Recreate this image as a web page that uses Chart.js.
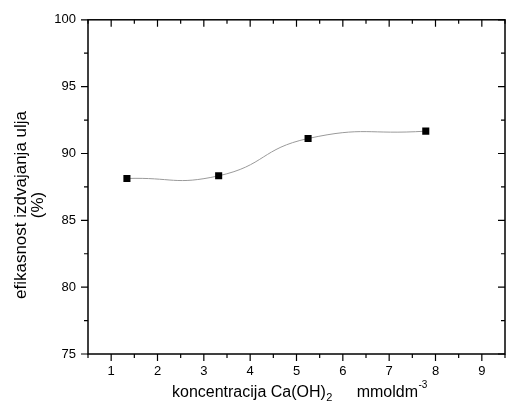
<!DOCTYPE html>
<html><head><meta charset="utf-8">
<script src="https://cdn.jsdelivr.net/npm/chart.js@4.4.0/dist/chart.umd.min.js"></script>
<style>html,body{margin:0;padding:0;background:#fff;}</style>
</head><body>
<canvas id="c" width="510" height="411" style="display:block;width:510px;height:411px"></canvas>
<script>
const concentration = [1.34, 3.32, 5.25, 7.79];
const efficiency = [88.13, 88.33, 91.12, 91.67];
const xTicks = [1, 2, 3, 4, 5, 6, 7, 8, 9];
const xMinorTicks = [0.5, 1.5, 2.5, 3.5, 4.5, 5.5, 6.5, 7.5, 8.5, 9.5];
const yTicks = [75, 80, 85, 90, 95, 100];
const yMinorTicks = [77.5, 82.5, 87.5, 92.5, 97.5];
const xTitle = 'koncentracija Ca(OH)';
const xTitleSub = '2';
const xTitleUnit = 'mmoldm';
const xTitleSup = '-3';
const yTitle = ['efikasnost izdvajanja ulja', '(%)'];

const FONT = '"Liberation Sans", Arial, sans-serif';
const points = concentration.map((x, i) => ({x: x, y: efficiency[i]}));

const framePlugin = {
  id: 'frame',
  afterDraw(chart) {
    const ctx = chart.ctx, a = chart.chartArea;
    const xs = chart.scales.x, ys = chart.scales.y;
    ctx.save();
    ctx.strokeStyle = '#000';
    ctx.lineWidth = 1.5;
    ctx.strokeRect(a.left, a.top, a.right - a.left, a.bottom - a.top);
    ctx.lineWidth = 1.2;
    ctx.beginPath();
    const tick = (vals, len) => {
      vals.forEach(v => {
        const px = xs.getPixelForValue(v);
        ctx.moveTo(px, a.bottom); ctx.lineTo(px, a.bottom + len);
        ctx.moveTo(px, a.top); ctx.lineTo(px, a.top + len);
      });
    };
    const ytick = (vals, len) => {
      vals.forEach(v => {
        const py = ys.getPixelForValue(v);
        ctx.moveTo(a.left, py); ctx.lineTo(a.left - len, py);
        ctx.moveTo(a.right, py); ctx.lineTo(a.right - len, py);
      });
    };
    tick(xTicks, 7); tick(xMinorTicks, 4);
    ytick(yTicks, 7); ytick(yMinorTicks, 4);
    ctx.stroke();

    // x title
    ctx.fillStyle = '#000';
    ctx.textBaseline = 'alphabetic';
    ctx.textAlign = 'left';
    let x = 172, base = 397;
    ctx.font = '16px ' + FONT;
    ctx.fillText(xTitle, x, base);
    x += ctx.measureText(xTitle).width;
    ctx.font = '11px ' + FONT;
    ctx.fillText(xTitleSub, x + 0.5, base + 4);
    x += ctx.measureText(xTitleSub).width + 0.5;
    ctx.font = '16px ' + FONT;
    x += ctx.measureText('     ').width + 2;
    ctx.fillText(xTitleUnit, x, base);
    x += ctx.measureText(xTitleUnit).width;
    ctx.font = '10px ' + FONT;
    ctx.fillText(xTitleSup, x + 0.5, base - 9);

    // y title
    ctx.translate(0, 205);
    ctx.rotate(-Math.PI / 2);
    ctx.textAlign = 'center';
    ctx.font = '17px ' + FONT;
    ctx.fillText(yTitle[0], 0, 26);
    ctx.fillText(yTitle[1], 0, 43);
    ctx.restore();
  }
};

new Chart(document.getElementById('c'), {
  type: 'scatter',
  data: {
    datasets: [
      {
        data: points,
        order: 1,
        showLine: true,
        tension: 0.5,
        borderColor: '#9a9a9a',
        borderWidth: 1,
        pointRadius: 0,
        fill: false
      },
      {
        data: points,
        order: 0,
        showLine: false,
        pointStyle: 'rect',
        pointRadius: 5,
        pointBackgroundColor: '#000',
        pointBorderWidth: 0,
        pointBorderColor: '#000'
      }
    ]
  },
  options: {
    responsive: false,
    animation: false,
    events: [],
    layout: {padding: {top: 15, right: 2, left: 0, bottom: 0}},
    plugins: {legend: {display: false}, tooltip: {enabled: false}},
    scales: {
      x: {
        type: 'linear',
        min: 0.5, max: 9.5,
        afterBuildTicks(s) { s.ticks = xTicks.map(v => ({value: v})); },
        afterFit(s) { s.height = 57; },
        grid: {display: false, drawTicks: false},
        border: {display: false},
        ticks: {color: '#000', font: {family: FONT, size: 13}, padding: 10, maxRotation: 0, autoSkip: false,
          callback: v => String(v)}
      },
      y: {
        type: 'linear',
        min: 75, max: 100,
        afterBuildTicks(s) { s.ticks = yTicks.map(v => ({value: v})); },
        afterFit(s) { s.width = 88; },
        grid: {display: false, drawTicks: false},
        border: {display: false},
        ticks: {color: '#000', font: {family: FONT, size: 13}, padding: 12, autoSkip: false,
          callback: v => String(v)}
      }
    }
  },
  plugins: [framePlugin]
});
</script>
</body></html>
